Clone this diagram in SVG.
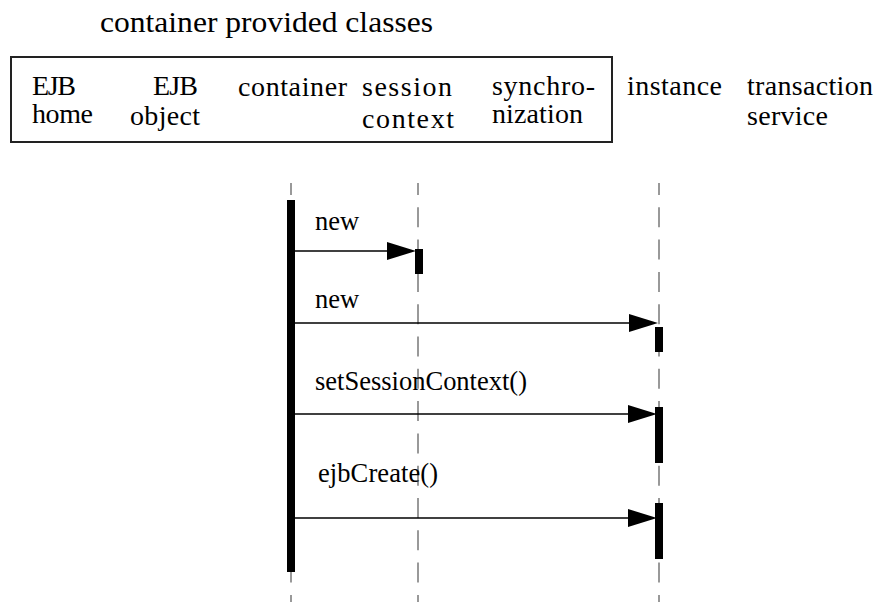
<svg xmlns="http://www.w3.org/2000/svg" width="880" height="602" viewBox="0 0 880 602">
<rect width="880" height="602" fill="#fff"/>
<text font-family="Liberation Serif" font-size="30" x="100" y="32" textLength="333" lengthAdjust="spacingAndGlyphs">container provided classes</text>
<g id="provided-classes">
<rect x="11" y="57" width="601" height="85" fill="none" stroke="#222" stroke-width="2"/>
</g>
<g font-family="Liberation Serif" font-size="28" fill="#000">
<g id="ejb-home"><text x="32" y="95" textLength="44">EJB</text><text x="32" y="123" textLength="61">home</text></g>
<g id="ejb-object"><text x="153" y="95" textLength="45">EJB</text><text x="130" y="125" textLength="70">object</text></g>
<g id="container"><text x="238" y="96" textLength="109">container</text></g>
<g id="session-context"><text x="362" y="96" textLength="90">session</text><text x="362" y="128" textLength="92">context</text></g>
<g id="synchronization"><text x="492" y="95" textLength="103">synchro-</text><text x="492" y="123" textLength="91">nization</text></g>
<g id="instance"><text x="627" y="95" textLength="95">instance</text></g>
<g id="transaction-service"><text x="747" y="95" textLength="126">transaction</text><text x="747" y="125" textLength="81">service</text></g>
</g>
<g id="lifelines" stroke="#808080" stroke-width="1.6" stroke-dasharray="20 12.3" stroke-dashoffset="8" fill="none">
<line x1="291" y1="183" x2="291" y2="602"/>
<line x1="418" y1="183" x2="418" y2="602"/>
<line x1="659" y1="183" x2="659" y2="602"/>
</g>
<g id="activations" fill="#000">
<rect x="287" y="200" width="8" height="372"/>
<rect x="415" y="249" width="8" height="25"/>
<rect x="655" y="327" width="8" height="25"/>
<rect x="655" y="407" width="8" height="56"/>
<rect x="655" y="503" width="8" height="56"/>
</g>
<g id="connectors" stroke="#000" stroke-width="1.5">
<line x1="295" y1="251" x2="390" y2="251"/>
<polygon stroke="none" fill="#000" points="387,242 416,251 387,260"/>
<line x1="295" y1="323" x2="632" y2="323"/>
<polygon stroke="none" fill="#000" points="629,314 658,323 629,332"/>
<line x1="295" y1="414" x2="631" y2="414"/>
<polygon stroke="none" fill="#000" points="628,405 657,414 628,423"/>
<line x1="295" y1="518" x2="631" y2="518"/>
<polygon stroke="none" fill="#000" points="628,509 657,518 628,527"/>
</g>
<g id="labels" font-family="Liberation Serif" font-size="26.5" fill="#000">
<text x="315" y="230">new</text>
<text x="315" y="308">new</text>
<text x="315" y="390" textLength="212">setSessionContext()</text>
<text x="318" y="482" textLength="120">ejbCreate()</text>
</g>
</svg>
